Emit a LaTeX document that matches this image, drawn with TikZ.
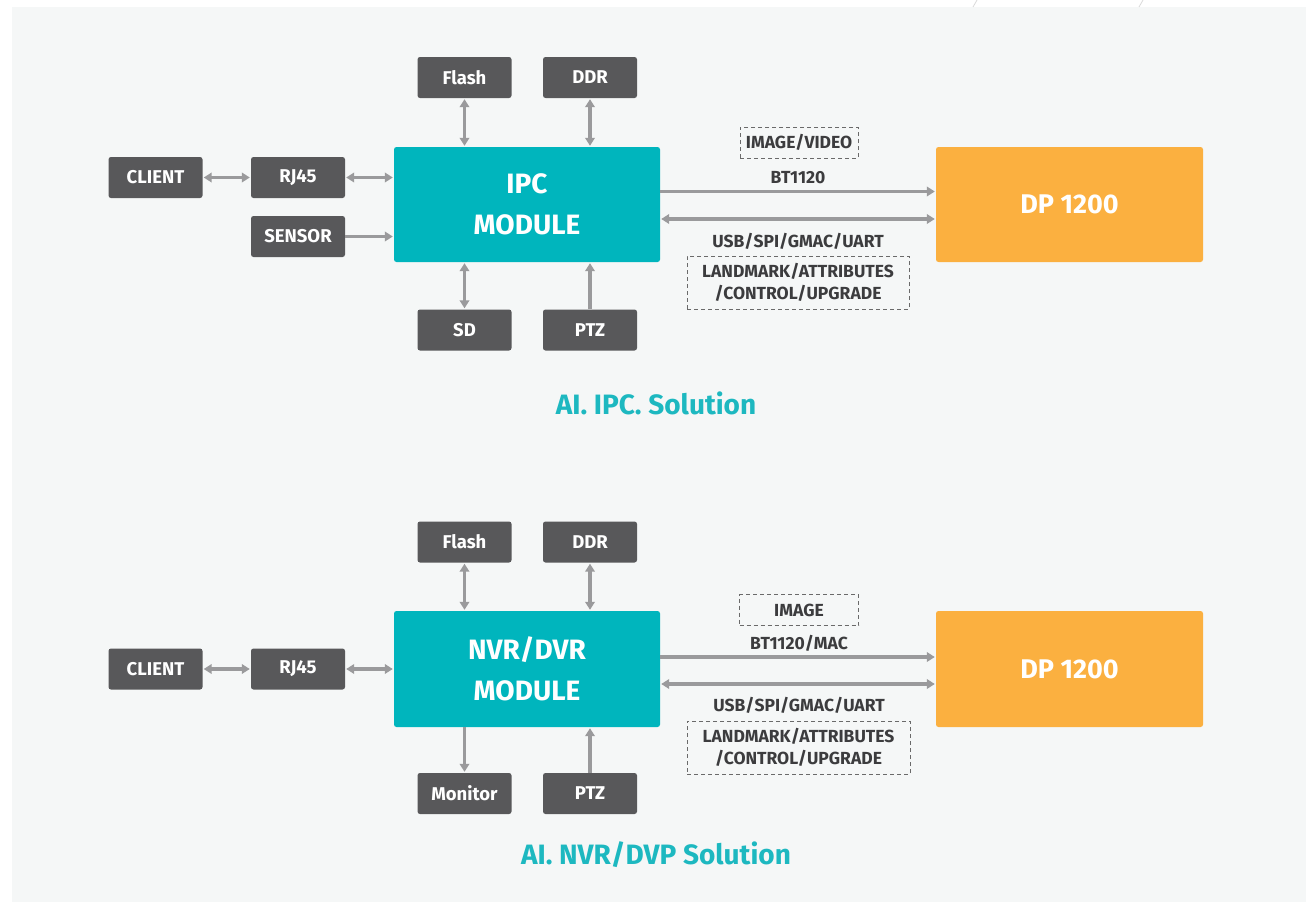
\documentclass[tikz,border=0pt]{standalone}
\usepackage{fontspec}
\setmainfont{Fira Sans}
\usetikzlibrary{arrows.meta,calc}
\definecolor{bgc}{HTML}{F5F7F7}
\definecolor{boxc}{HTML}{58585A}
\definecolor{tealc}{HTML}{00B5BD}
\definecolor{orangec}{HTML}{FBB040}
\definecolor{arrc}{HTML}{9A9A9C}
\definecolor{txtc}{HTML}{3C3C3E}
\definecolor{titc}{HTML}{1DB8C0}
\definecolor{dashc}{HTML}{6A6A6A}
\tikzset{
  smallbox/.style={fill=boxc, rounded corners=2.5pt, minimum width=94pt, minimum height=41pt, inner sep=0pt,
     text=white, font=\fontsize{18.5}{20}\selectfont\bfseries},
  bigbox/.style={fill=tealc, rounded corners=2.5pt, minimum width=266pt, minimum height=115pt, inner sep=0pt,
     text=white, font=\fontsize{28}{41}\selectfont\bfseries, align=center},
  dpbox/.style={fill=orangec, rounded corners=2.5pt, minimum width=267pt, minimum height=115pt, inner sep=0pt,
     text=white, font=\fontsize{27}{30}\selectfont\bfseries},
  lbl/.style={text=txtc, font=\fontsize{17.5}{22}\selectfont\bfseries, inner sep=0pt, align=center},
  dbox/.style={draw=dashc, dash pattern=on 4pt off 3pt, line width=0.9pt, inner sep=0pt},
  ttl/.style={text=titc, font=\fontsize{28}{32}\selectfont\bfseries, inner sep=0pt},
  arr/.style={draw=arrc, line width=3.2pt, -{Triangle[length=8pt,width=9.5pt]}, shorten >=1pt},
  darr/.style={draw=arrc, line width=3.2pt, {Triangle[length=8pt,width=9.5pt]}-{Triangle[length=8pt,width=9.5pt]}, shorten >=1pt, shorten <=1pt},
}
\begin{document}
\begin{tikzpicture}[x=1pt,y=-1pt]
\useasboundingbox (0,0) rectangle (1306,902);
\fill[bgc] (12,7) rectangle (1306,902);
\draw[black!15, line width=0.8pt] (977,0) -- (973,7);
\draw[black!15, line width=0.8pt] (1143,0) -- (1139,7);

% ---------- top ----------
\node[bigbox] (ipc) at (527,204.5) {IPC\\MODULE};
\node[smallbox] (flash1) at (464.5,77.5) {Flash};
\node[smallbox] (ddr1) at (590,77.5) {DDR};
\node[smallbox] (client1) at (155.5,177.5) {CLIENT};
\node[smallbox] (rj1) at (298,177.5) {RJ45};
\node[smallbox] (sensor1) at (298,236.5) {SENSOR};
\node[smallbox] (sd1) at (464.5,330) {SD};
\node[smallbox] (ptz1) at (590,330) {PTZ};
\node[dpbox] (dp1) at (1069.5,204.5) {DP 1200};

\node[dbox, minimum width=118pt, minimum height=31pt] (img1) at (799,142.5) {};
\node[lbl] (img1t) at (img1) {IMAGE/VIDEO};
\node[lbl] (bt1) at (798,178) {BT1120};
\node[lbl] (usb1) at (798,241) {USB/SPI/GMAC/UART};
\node[dbox, minimum width=222pt, minimum height=53pt] (lm1) at (798,282.5) {};
\node[lbl] (lm1t) at (lm1) {LANDMARK/ATTRIBUTES\\/CONTROL/UPGRADE};
\node[ttl] (title1) at (656,403) {AI. IPC. Solution};

\draw[darr] (client1.east) -- (rj1.west);
\draw[darr] (rj1.east) -- (rj1.east -| ipc.west);
\draw[arr] (sensor1.east) -- (sensor1.east -| ipc.west);
\draw[darr] (flash1.south) -- (flash1.south |- ipc.north);
\draw[darr] (ddr1.south) -- (ddr1.south |- ipc.north);
\draw[darr] (sd1.north) -- (sd1.north |- ipc.south);
\draw[arr] (ptz1.north) -- (ptz1.north |- ipc.south);
\draw[arr] ([yshift=13pt]ipc.east) -- ([yshift=13pt]dp1.west);
\draw[darr] ([yshift=-14.5pt]ipc.east) -- ([yshift=-14.5pt]dp1.west);

% ---------- bottom ----------
\node[bigbox, minimum height=116pt] (nvr) at (527,669) {NVR/DVR\\MODULE};
\node[smallbox] (flash2) at (464.5,542) {Flash};
\node[smallbox] (ddr2) at (590,542) {DDR};
\node[smallbox] (client2) at (155.5,669) {CLIENT};
\node[smallbox] (rj2) at (298,669) {RJ45};
\node[smallbox] (mon2) at (464.5,793.5) {Monitor};
\node[smallbox] (ptz2) at (590,793.5) {PTZ};
\node[dpbox, minimum height=116pt] (dp2) at (1069.5,669) {DP 1200};

\node[dbox, minimum width=119pt, minimum height=31pt] (img2) at (799,610) {};
\node[lbl] (img2t) at (img2) {IMAGE};
\node[lbl] (bt2) at (799,643) {BT1120/MAC};
\node[lbl] (usb2) at (799,705.5) {USB/SPI/GMAC/UART};
\node[dbox, minimum width=223pt, minimum height=53pt] (lm2) at (798.5,747.5) {};
\node[lbl] (lm2t) at (lm2) {LANDMARK/ATTRIBUTES\\/CONTROL/UPGRADE};
\node[ttl] (title2) at (656,855) {AI. NVR/DVP Solution};

\draw[darr] (client2.east) -- (rj2.west);
\draw[darr] (rj2.east) -- (rj2.east -| nvr.west);
\draw[darr] (flash2.south) -- (flash2.south |- nvr.north);
\draw[darr] (ddr2.south) -- (ddr2.south |- nvr.north);
\draw[arr] (mon2.north |- nvr.south) -- (mon2.north);
\draw[arr] (ptz2.north) -- (ptz2.north |- nvr.south);
\draw[arr] ([yshift=12pt]nvr.east) -- ([yshift=12pt]dp2.west);
\draw[darr] ([yshift=-15pt]nvr.east) -- ([yshift=-15pt]dp2.west);
\end{tikzpicture}
\end{document}
